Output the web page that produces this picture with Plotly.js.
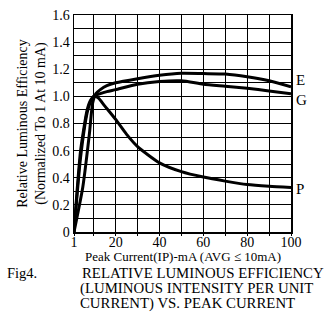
<!DOCTYPE html>
<html><head><meta charset="utf-8">
<script src="https://cdn.plot.ly/plotly-3.0.1.min.js"></script>
<style>html,body{margin:0;padding:0;background:#fff}#c{width:327px;height:313px}</style>
</head><body><div id="c"></div>
<script>
const xE = [1, 5, 8, 9.5, 11, 13, 16, 20, 30, 40, 50, 60, 70, 80, 90, 100];
const yE = [0, 0.33, 0.72, 0.95, 1.02, 1.05, 1.08, 1.10, 1.13, 1.155, 1.17, 1.168, 1.165, 1.145, 1.115, 1.07];
const xG = [1, 4, 7, 8.5, 10, 13, 16, 20, 30, 40, 50, 60, 70, 80, 90, 100];
const yG = [0, 0.55, 0.88, 0.96, 1.0, 1.02, 1.035, 1.05, 1.09, 1.11, 1.115, 1.09, 1.075, 1.06, 1.04, 1.02];
const xP = [1, 4, 7, 8.5, 10, 12, 15, 20, 25, 30, 40, 50, 60, 70, 80, 90, 100];
const yP = [0, 0.6, 0.9, 0.97, 1.0, 0.99, 0.93, 0.83, 0.72, 0.63, 0.51, 0.445, 0.405, 0.375, 0.35, 0.337, 0.328];
const xTickVals = [1, 20, 40, 60, 80, 100];
const xTickText = ['1', '20', '40', '60', '80', '100'];
const yTickVals = [0, 0.2, 0.4, 0.6, 0.8, 1.0, 1.2, 1.4, 1.6];
const yTickText = ['0', '0.2', '0.4', '0.6', '0.8', '1.0', '1.2', '1.4', '1.6'];
const seriesNames = ['E', 'G', 'P'];
const labelY = [1.12, 0.97, 0.32];
const xTitle = 'Peak Current(IP)-mA (AVG \u2264 10mA)';
const yTitle = 'Relative Luminous Efficiency<br>(Normalized To 1 At 10 mA)';
const captionFig = 'Fig4.';
const captionLines = ['RELATIVE LUMINOUS EFFICIENCY', '(LUMINOUS INTENSITY PER UNIT', 'CURRENT) VS. PEAK CURRENT'];

const serif = '"Liberation Serif", "Times New Roman", serif';
const L = 74, R = 36, T = 15, B = 81, W = 327, H = 313;
const pw = W - L - R, ph = H - T - B;
const px2paperX = px => (px - L) / pw;
const px2paperY = py => (H - B - py) / ph;

const line = {color: '#000', width: 3, shape: 'spline', smoothing: 0.6};
const traces = [[xE, yE], [xG, yG], [xP, yP]].map((d, i) => ({
  x: d[0], y: d[1], mode: 'lines', line: line, name: seriesNames[i], hoverinfo: 'none'
}));

const ann = seriesNames.map((n, i) => ({
  x: 100, y: labelY[i], xref: 'x', yref: 'y', text: n, showarrow: false,
  xanchor: 'left', xshift: 3, font: {family: serif, size: 15, color: '#000'}
}));
ann.push({x: px2paperX(183), y: px2paperY(256), xref: 'paper', yref: 'paper', text: xTitle,
  showarrow: false, xanchor: 'center', yanchor: 'middle', font: {family: serif, size: 13, color: '#000'}});
ann.push({x: px2paperX(5), y: px2paperY(273), xref: 'paper', yref: 'paper', text: captionFig,
  showarrow: false, xanchor: 'left', yanchor: 'middle', font: {family: serif, size: 14.5, color: '#000'}});
const starts = [80, 78, 78];
captionLines.forEach((t, i) => ann.push({
  x: px2paperX(starts[i]), y: px2paperY(273 + 15 * i), xref: 'paper', yref: 'paper', text: t,
  showarrow: false, xanchor: 'left', yanchor: 'middle', font: {family: serif, size: 14.8, color: '#000'}
}));

const layout = {
  width: W, height: H,
  margin: {l: L, r: R, t: T, b: B},
  paper_bgcolor: '#fff', plot_bgcolor: '#fff',
  showlegend: false,
  font: {family: serif, color: '#000'},
  xaxis: {
    range: [1, 100], tickmode: 'array', tickvals: xTickVals, ticktext: xTickText,
    showgrid: true, gridcolor: '#000', gridwidth: 1,
    minor: {tickmode: 'linear', tick0: 0, dtick: 10, showgrid: true, gridcolor: '#000', gridwidth: 1, ticks: 'outside', ticklen: 2, tickcolor: '#000'},
    ticks: 'outside', ticklen: 2, tickcolor: '#000', ticklabelstandoff: -5,
    showline: true, linecolor: '#000', linewidth: 1.5, mirror: true, zeroline: false,
    tickfont: {family: serif, size: 14, color: '#000'},
    fixedrange: true
  },
  yaxis: {
    range: [0, 1.6], tickmode: 'array', tickvals: yTickVals, ticktext: yTickText,
    showgrid: true, gridcolor: '#000', gridwidth: 1,
    minor: {tickmode: 'linear', tick0: 0, dtick: 0.1, showgrid: true, gridcolor: '#000', gridwidth: 1},
    ticks: '', showline: true, linecolor: '#000', linewidth: 1.5, mirror: true, zeroline: false,
    tickfont: {family: serif, size: 14, color: '#000'},
    title: {text: yTitle, font: {family: serif, size: 14, color: '#000'}, standoff: 3},
    fixedrange: true
  },
  annotations: ann
};
Plotly.newPlot('c', traces, layout, {staticPlot: true, displayModeBar: false});
</script></body></html>
